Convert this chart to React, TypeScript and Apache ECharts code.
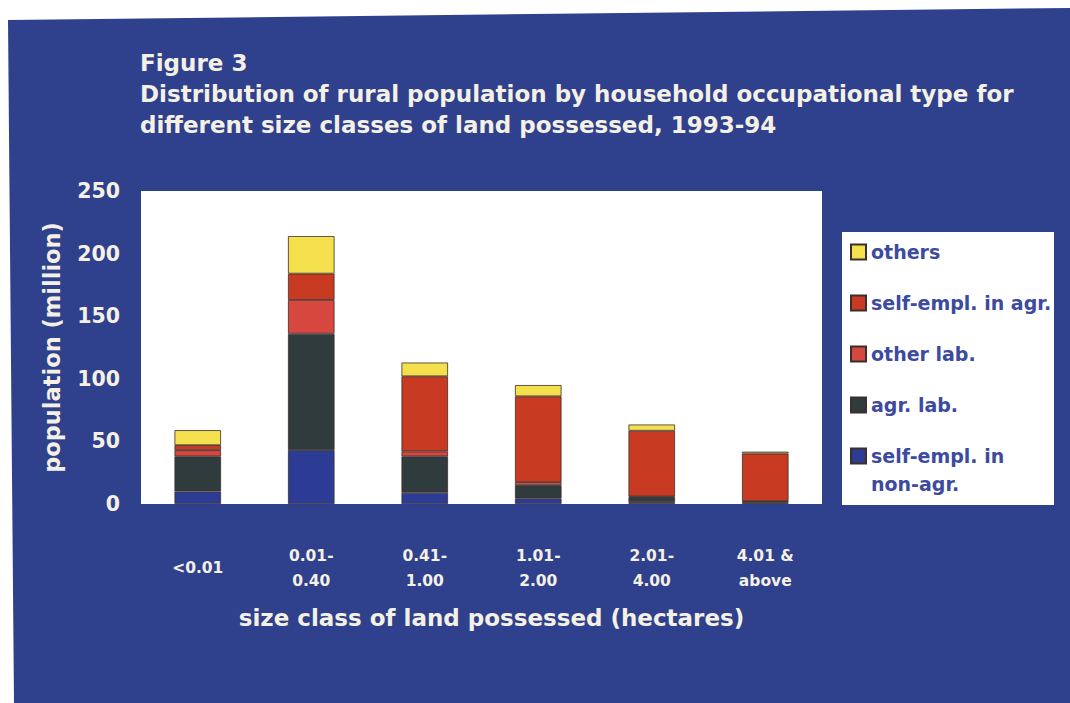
import React, { useEffect, useRef } from "react";
import * as echarts from "echarts";

const categories = ["<0.01", "0.01-\n0.40", "0.41-\n1.00", "1.01-\n2.00", "2.01-\n4.00", "4.01 &\nabove"];
const yTicks = [0, 50, 100, 150, 200, 250];

const selfEmplNonAgr = [10, 43, 9, 4.5, 1.5, 1];
const agrLab = [28, 93, 29, 10.5, 4, 1];
const otherLab = [5, 27, 4, 2.5, 0.5, 0.3];
const selfEmplAgr = [4, 21, 60, 68.5, 52.5, 38];
const others = [12, 30, 11, 9, 5, 1.5];

const seriesNames = ["self-empl. in non-agr.", "agr. lab.", "other lab.", "self-empl. in agr.", "others"];
const seriesColors = ["#2c3c95", "#2f3b3c", "#d5473f", "#c83a22", "#f4e04c"];
const seriesValues = [selfEmplNonAgr, agrLab, otherLab, selfEmplAgr, others];

const FONT = '"DejaVu Sans", "Liberation Sans", Arial, sans-serif';
const BG = "#2f408d";
const TEXT = "#f4f1e4";
const LEGEND_TEXT = "#3c4a9f";

export default function App() {
  const ref = useRef<HTMLDivElement>(null);
  useEffect(() => {
    if (!ref.current) return;
    const chart = echarts.init(ref.current, undefined, { renderer: "svg" });
    const legendData = seriesNames.slice().reverse().map((n) => {
      if (n === "self-empl. in non-agr.") {
        return { name: n, textStyle: { padding: [28, 0, 0, 0] } };
      }
      return { name: n, textStyle: { padding: [28, 0, 28, 0] } };
    });
    chart.setOption({
      animation: false,
      backgroundColor: BG,
      title: {
        text: "Figure 3\nDistribution of rural population by household occupational type for\ndifferent size classes of land possessed, 1993-94",
        left: 140,
        top: 47,
        padding: 0,
        textStyle: { color: TEXT, fontFamily: FONT, fontWeight: "bold", fontSize: 23, lineHeight: 31 },
      },
      graphic: [
        {
          type: "polygon",
          shape: { points: [[0, 0], [1070, 0], [1070, 8], [8, 20], [14, 703], [0, 703]] },
          style: { fill: "#ffffff" },
          silent: true,
        },
        {
          type: "rect",
          shape: { x: 842, y: 232, width: 212, height: 273 },
          style: { fill: "#ffffff" },
          silent: true,
        },
      ],
      legend: {
        orient: "vertical",
        left: 850,
        top: 210,
        padding: 0,
        itemGap: -33,
        itemWidth: 15,
        itemHeight: 15,
        icon: "rect",
        data: legendData,
        formatter: (name: string) =>
          name === "self-empl. in non-agr." ? "{a|self-empl. in}\n{a|non-agr.}" : "{a|" + name + "}",
        textStyle: {
          color: LEGEND_TEXT,
          fontFamily: FONT,
          fontWeight: "bold",
          fontSize: 19,
          lineHeight: 28,
          rich: {
            a: { color: LEGEND_TEXT, fontFamily: FONT, fontWeight: "bold", fontSize: 19, lineHeight: 28 },
          },
        },
      },
      grid: {
        left: 141,
        top: 191,
        width: 681,
        height: 313,
        show: true,
        backgroundColor: "#ffffff",
        borderWidth: 0,
      },
      xAxis: {
        type: "category",
        data: categories,
        axisLine: { show: false },
        axisTick: { show: false },
        axisLabel: {
          interval: 0,
          color: TEXT,
          fontFamily: FONT,
          fontWeight: "bold",
          fontSize: 15.5,
          lineHeight: 25,
          margin: 64,
          verticalAlign: "middle",
        },
        name: "size class of land possessed (hectares)",
        nameLocation: "middle",
        nameGap: 102,
        nameTextStyle: { color: TEXT, fontFamily: FONT, fontWeight: "bold", fontSize: 23, padding: [0, 0, 0, 20] },
      },
      yAxis: {
        type: "value",
        min: yTicks[0],
        max: yTicks[yTicks.length - 1],
        interval: 50,
        splitLine: { show: false },
        axisLine: { show: false },
        axisTick: { show: false },
        axisLabel: { color: TEXT, fontFamily: FONT, fontWeight: "bold", fontSize: 20.5, margin: 21 },
        name: "population (million)",
        nameLocation: "middle",
        nameRotate: 90,
        nameGap: 78,
        nameTextStyle: { color: TEXT, fontFamily: FONT, fontWeight: "bold", fontSize: 22.5 },
      },
      series: seriesNames.map((name, i) => ({
        name,
        type: "bar",
        stack: "total",
        barWidth: "41%",
        data: seriesValues[i],
        itemStyle: { color: seriesColors[i], borderColor: "#3b2f2c", borderWidth: 0.8 },
      })),
    });
    return () => chart.dispose();
  }, []);
  return (
    <div
      ref={ref}
      style={{ position: "absolute", left: 0, top: 0, width: 1070, height: 703 }}
    />
  );
}
